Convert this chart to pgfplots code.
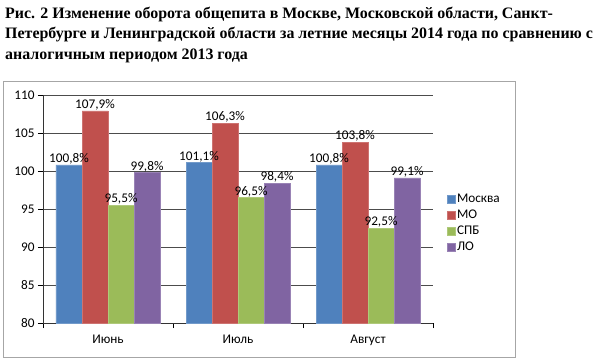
\documentclass[border=0pt]{standalone}
\usepackage{pgfplots}
\pgfplotsset{compat=1.18}
\usepackage{fontspec}
\setmainfont{Carlito}
\newfontfamily\titlefont{Liberation Serif}
\definecolor{mblue}{HTML}{4F81BD}
\definecolor{mred}{HTML}{C0504D}
\definecolor{mgreen}{HTML}{9BBB59}
\definecolor{mpurple}{HTML}{8064A2}
\begin{document}
\begin{tikzpicture}
\path[use as bounding box] (0bp,0bp) rectangle (603bp,-361bp);
\draw[black!35, line width=0.8bp] (3bp,-81bp) rectangle (515bp,-357bp);
\tikzset{ttl/.style={anchor=base west, inner sep=0pt,
      font=\titlefont\bfseries\fontsize{16}{20}\selectfont}}
\node[ttl] at (5bp,-18bp) {Рис. 2 Изменение оборота общепита в Москве, Московской области, Санкт-};
\node[ttl] at (5bp,-38.5bp) {Петербурге и Ленинградской области за летние месяцы 2014 года по сравнению с};
\node[ttl] at (5bp,-59bp) {аналогичным периодом 2013 года};
\begin{axis}[
  at={(43bp,-323bp)}, anchor=south west,
  scale only axis, width=390bp, height=228bp,
  ybar=0pt, bar width=26bp,
  xmin=-0.5, xmax=2.5, ymin=80, ymax=110,
  axis x line=bottom, axis y line=left,
  axis line style={-, black!80, line width=0.8bp},
  xtick={0,1,2}, xticklabels={Июнь,Июль,Август},
  minor xtick={-0.5,0.5,1.5,2.5},
  major x tick style={draw=none},
  minor x tick style={black, line width=0.8bp},
  minor tick length=5bp,
  ytick={80,85,...,110},
  y tick style={black, line width=0.8bp},
  major tick length=5bp,
  tick align=outside,
  ymajorgrids, major grid style={black!70, line width=0.8bp},
  ticklabel style={font=\fontsize{13.3}{15}\selectfont},
  /pgf/number format/assume math mode=true,
  xticklabel style={yshift=-3bp},
  nodes near coords={\pgfmathprintnumber[use comma,fixed,fixed zerofill,precision=1]{\pgfplotspointmeta}\%},
  every node near coord/.append style={font=\fontsize{13.3}{15}\selectfont, inner sep=0.5bp, black},
  legend style={at={(1.028,0.584)}, anchor=north west, draw=none, fill=none,
    font=\fontsize{13.3}{15}\selectfont, row sep=2bp,
    nodes={inner xsep=1.5bp}},
  legend cell align=left,
  legend image code/.code={\fill[#1] (0bp,-4bp) rectangle (8bp,4bp);},
]
\addplot[fill=mblue, draw=mblue!80!white] coordinates {(0,100.8) (1,101.1) (2,100.8)};
\addplot[fill=mred, draw=mred!80!white] coordinates {(0,107.9) (1,106.3) (2,103.8)};
\addplot[fill=mgreen, draw=mgreen!80!white] coordinates {(0,95.5) (1,96.5) (2,92.5)};
\addplot[fill=mpurple, draw=mpurple!80!white] coordinates {(0,99.8) (1,98.4) (2,99.1)};
\legend{Москва,МО,СПБ,ЛО}
\end{axis}
\end{tikzpicture}
\end{document}
